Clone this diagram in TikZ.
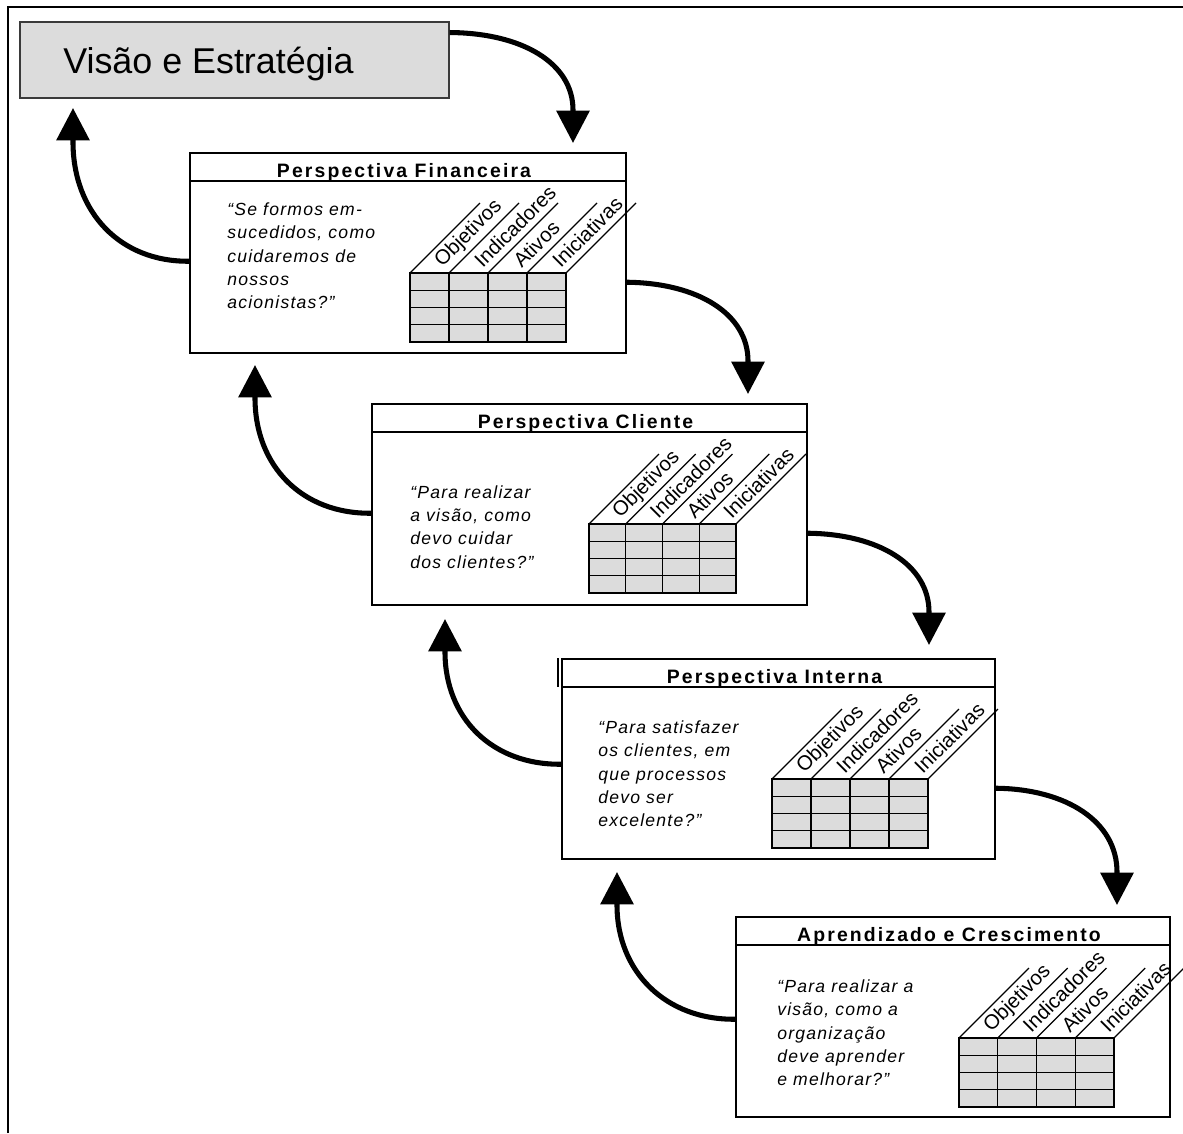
\documentclass[tikz,border=0pt]{standalone}
\usepackage{fontspec}
\setmainfont{Liberation Sans}
\newfontfamily\hdfont{Liberation Sans}[LetterSpace=11]
\newfontfamily\qtfont{Liberation Sans}[LetterSpace=7]
\newfontfamily\colfont{Liberation Sans}
\usetikzlibrary{arrows.meta,fit,calc}
\definecolor{cellgray}{HTML}{DCDCDC}
\definecolor{edgegray}{HTML}{3A3A3A}

\tikzset{
  frameline/.style={line width=1.4pt, black},
  titlebox/.style={draw=edgegray, line width=1pt, fill=cellgray, inner sep=0pt},
  panel/.style={draw=black, line width=1.1pt, fill=white, inner sep=0pt},
  rule/.style={black, line width=1.1pt},
  hdtext/.style={font=\hdfont\bfseries\fontsize{13.8}{15}\selectfont, inner sep=0pt, anchor=base},
  quote/.style={font=\qtfont\itshape\fontsize{12.5}{16.6}\selectfont, align=left, inner sep=0pt, anchor=north west},
  grid/.style={black, line width=0.9pt},
  collabel/.style={font=\colfont\fontsize{14.5}{15}\selectfont, inner sep=0pt, anchor=west, rotate=45},
  flow/.style={line width=3.6pt, -{Triangle[length=23pt,width=23pt]}},
  % grey measure table with slanted column headings; #1 = table width
  measures/.pic={
    \fill[cellgray] (0,0) rectangle (#1,69);
    \foreach \k in {1,2,3} \draw[grid] ({\k*#1/4},0) -- ({\k*#1/4},69);
    \foreach \r in {17.25,34.5,51.75} \draw[grid] (0,\r) -- (#1,\r);
    \draw[grid] (0,0) rectangle (#1,69);
    \foreach \k in {0,1,2,3,4} \draw[grid] ({\k*#1/4},0) -- ++(70,-70);
    \foreach \lab [count=\i from 0] in {Objetivos,Indicadores,Ativos,Iniciativas}
      \node[collabel] (-l\i) at ({\i*#1/4 + #1/8 + 9}, -9) {\lab};
  }
}

\begin{document}
\begin{tikzpicture}[x=0.025cm,y=-0.025cm]
\useasboundingbox (0,0) rectangle (1183,1133);
\fill[white] (0,0) rectangle (1183,1133);

% outer frame (top and left only)
\draw[frameline] (8,1133) -- (8,7) -- (1183,7);

% title
\node[titlebox, fit={(20,22) (449,98)}] (vis) {};
\node[anchor=base west, inner sep=0pt, font=\fontsize{25.5}{30}\selectfont] (vist) at (63,73) {Visão e Estratégia};

% the four perspectives
\node[panel, fit={(190,153) (626,353)}] (fin) {};
\node[panel, fit={(372,404) (807,605)}] (cli) {};
\node[panel, fit={(562,659) (995,859)}] (int) {};
\node[panel, fit={(736,917) (1170,1117)}] (apr) {};

\foreach \b in {fin,cli,int,apr}
  \draw[rule] ($(\b.north west)+(0,29)$) -- ($(\b.north east)+(0,29)$);
\draw[rule] ($(int.north west)+(-3,0)$) -- ($(int.north west)+(-3,29)$);

\node[hdtext] (hfin) at ($(fin.north)+(-4,25)$) {Perspectiva Financeira};
\node[hdtext] (hcli) at ($(cli.north)+(-4,25)$) {Perspectiva Cliente};
\node[hdtext] (hint) at ($(int.north)+(-4,25)$) {Perspectiva Interna};
\node[hdtext] (hapr) at ($(apr.north)+(-4,25)$) {Aprendizado e Crescimento};

\node[quote] (qfin) at (227,202.5) {“Se formos em-\\sucedidos, como\\cuidaremos de\\nossos\\acionistas?”};
\node[quote] (qcli) at (410,485) {“Para realizar\\a visão, como\\devo cuidar\\dos clientes?”};
\node[quote] (qint) at (598,720.5) {“Para satisfazer\\os clientes, em\\que processos\\devo ser\\excelente?”};
\node[quote] (qapr) at (777,979.5) {“Para realizar a\\visão, como a\\organização\\deve aprender\\e melhorar?”};

\pic (tfin) at (410,273) {measures=156};
\pic (tcli) at (589,524) {measures=147};
\pic (tint) at (772,779) {measures=156};
\pic (tapr) at (959,1038) {measures=155};

% downward flow, right side
\coordinate (d1) at (573,143);
\coordinate (d2) at (748,394);
\coordinate (d3) at (929,645);
\coordinate (d4) at (1117,905);
\draw[flow] ($(vis.north east)!0.145!(vis.south east)$) .. controls (522,33) and (573,63) .. (573,110) -- (d1);
\draw[flow] ($(fin.north east)+(0,130)$) .. controls (698,283) and (748,314) .. (748,361) -- (d2);
\draw[flow] ($(cli.north east)+(0,130)$) .. controls (879,534) and (929,565) .. (929,612) -- (d3);
\draw[flow] ($(int.north east)+(0,130)$) .. controls (1067,789) and (1117,822) .. (1117,872) -- (d4);

% upward feedback, left side
\coordinate (u1) at (73,108);
\coordinate (u2) at (255,365);
\coordinate (u3) at (445,619);
\coordinate (u4) at (617,872);
\draw[flow] ($(fin.north west)+(0,109)$) .. controls (120,262) and (73,212) .. (73,142) -- (u1);
\draw[flow] ($(cli.north west)+(0,110)$) .. controls (302,514) and (255,466) .. (255,398) -- (u2);
\draw[flow] ($(int.north west)+(0,106)$) .. controls (492,765) and (445,718) .. (445,652) -- (u3);
\draw[flow] ($(apr.north west)+(0,103)$) .. controls (666,1020) and (617,972) .. (617,905) -- (u4);
\end{tikzpicture}
\end{document}
